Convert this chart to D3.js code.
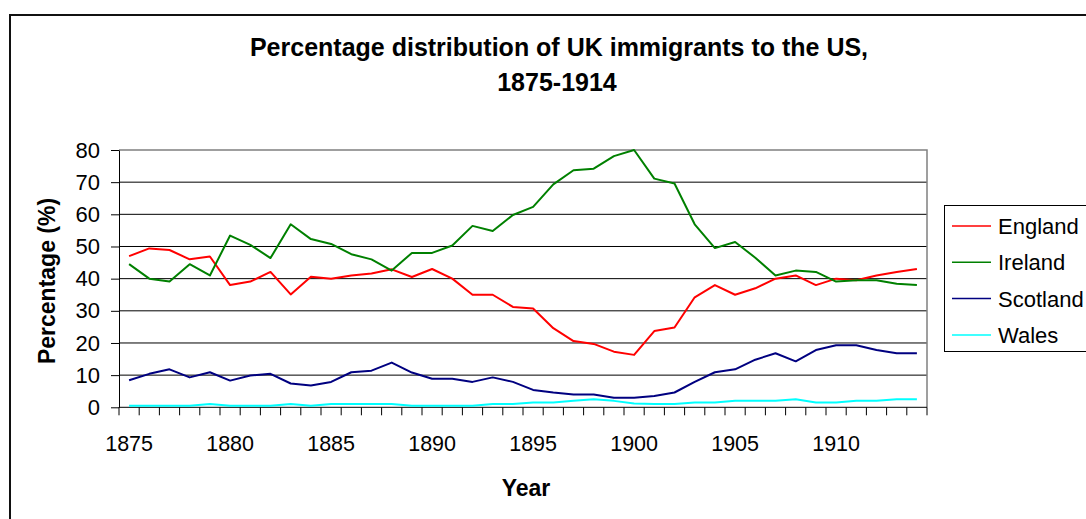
<!DOCTYPE html>
<html><head><meta charset="utf-8">
<script src="https://cdn.jsdelivr.net/npm/d3@7"></script>
<style>
html,body{margin:0;padding:0;background:#fff;overflow:hidden}
text{font-family:"Liberation Sans",Arial,sans-serif}
</style></head>
<body><svg id="c" width="1086" height="519"></svg>
<script>
const years = d3.range(1875, 1915);
const tickYears = [1875,1880,1885,1890,1895,1900,1905,1910];
const yTicks = [0,10,20,30,40,50,60,70,80];
const seriesNames = ["England","Ireland","Scotland","Wales"];
const seriesColors = ["#ff0000","#008000","#000080","#00ffff"];
const england = [47.0,49.4,48.9,46.0,46.9,38.0,39.1,42.1,35.1,40.6,40.0,41.0,41.6,42.9,40.5,43.0,40.0,35.0,35.0,31.2,30.7,24.6,20.6,19.7,17.3,16.3,23.7,24.8,34.2,38.0,35.0,37.0,40.0,41.0,38.0,40.0,39.5,41.0,42.1,43.0];
const ireland = [44.5,40.0,39.1,44.5,41.0,53.4,50.5,46.4,56.9,52.3,50.8,47.6,46.0,42.5,48.0,48.0,50.3,56.4,54.8,59.8,62.3,69.3,73.7,74.2,78.1,80.0,71.1,69.6,56.9,49.5,51.4,46.5,41.0,42.5,42.1,39.1,39.5,39.5,38.4,38.0];
const scotland = [8.4,10.4,11.8,9.3,10.9,8.3,9.9,10.4,7.4,6.8,7.9,10.9,11.4,13.9,10.8,8.9,8.9,7.9,9.3,7.9,5.4,4.6,4.0,4.0,3.0,3.0,3.5,4.6,7.9,10.9,11.8,14.8,16.8,14.3,17.8,19.3,19.3,17.8,16.8,16.8];
const wales = [0.5,0.5,0.5,0.5,1.0,0.5,0.5,0.5,1.0,0.5,1.0,1.0,1.0,1.0,0.5,0.5,0.5,0.5,1.0,1.0,1.5,1.5,2.0,2.5,2.0,1.2,1.0,1.0,1.5,1.5,2.0,2.0,2.0,2.5,1.5,1.5,2.0,2.0,2.5,2.5];
const seriesValues = [england, ireland, scotland, wales];

const svg = d3.select("#c");
const L = 119, R = 927, T = 150, B = 407.3;
const x = d3.scaleBand().domain(years).range([L, R]).padding(0);
const y = d3.scaleLinear().domain([0, 80]).range([B, T]);
const cx = yr => x(yr) + x.bandwidth() / 2;

// outer border
svg.append("rect").attr("x",10).attr("y",15).attr("width",1100).attr("height",540)
  .attr("fill","none").attr("stroke","#111").attr("stroke-width",2);

// title
svg.append("text").attr("x",559).attr("y",56).attr("text-anchor","middle")
  .attr("font-size",25).attr("font-weight","bold").text("Percentage distribution of UK immigrants to the US,");
svg.append("text").attr("x",557).attr("y",91).attr("text-anchor","middle")
  .attr("font-size",25).attr("font-weight","bold").text("1875-1914");

// gridlines
svg.append("g").selectAll("line").data(yTicks.filter(v => v > 0 && v < 80)).join("line")
  .attr("x1",L).attr("x2",R).attr("y1",d=>y(d)).attr("y2",d=>y(d))
  .attr("stroke","#000").attr("stroke-width",1);
// plot border top/right
svg.append("path").attr("d",`M${L},${y(80)}H${R}V${B}`).attr("fill","none").attr("stroke","#808080").attr("stroke-width",1.5);

// y axis
const ya = svg.append("g").attr("transform",`translate(${L},0)`)
  .call(d3.axisLeft(y).tickValues(yTicks).tickSize(8).tickPadding(11).tickSizeOuter(0));
ya.select(".domain").attr("stroke","#000");
ya.selectAll("line").attr("stroke","#000");
ya.selectAll("text").attr("font-size",22).attr("font-family","Liberation Sans, Arial, sans-serif").attr("fill","#000");

// x axis line and ticks at category boundaries
svg.append("line").attr("x1",L).attr("x2",R).attr("y1",B).attr("y2",B).attr("stroke","#000");
const bounds = years.map(yr => x(yr)).concat([x(years[years.length-1]) + x.bandwidth()]);
svg.append("g").selectAll("line").data(bounds).join("line")
  .attr("x1",d=>d).attr("x2",d=>d).attr("y1",B).attr("y2",B+8).attr("stroke","#000");
svg.append("g").selectAll("text").data(tickYears).join("text")
  .attr("x",d=>cx(d)).attr("y",451).attr("text-anchor","middle").attr("font-size",21.5).text(d=>d);

// axis titles
svg.append("text").attr("x",526).attr("y",496).attr("text-anchor","middle")
  .attr("font-size",23).attr("font-weight","bold").text("Year");
svg.append("text").attr("transform","translate(55,281) rotate(-90)").attr("text-anchor","middle")
  .attr("font-size",23).attr("font-weight","bold").text("Percentage (%)");

// lines
const line = d3.line().x((d,i)=>cx(years[i])).y(d=>y(d));
svg.append("g").selectAll("path").data(seriesValues).join("path")
  .attr("d",line).attr("fill","none").attr("stroke",(d,i)=>seriesColors[i]).attr("stroke-width",2)
  .attr("stroke-linejoin","round");

// legend
const lg = svg.append("g");
lg.append("rect").attr("x",944.5).attr("y",205.5).attr("width",200).attr("height",146)
  .attr("fill","#fff").attr("stroke","#000").attr("stroke-width",1);
seriesNames.forEach((n,i)=>{
  const yy = 226 + i*36.3;
  lg.append("line").attr("x1",952).attr("x2",991).attr("y1",yy).attr("y2",yy).attr("stroke",seriesColors[i]).attr("stroke-width",1.5);
  lg.append("text").attr("x",998).attr("y",yy+8).attr("font-size",22).text(n);
});
</script></body></html>
